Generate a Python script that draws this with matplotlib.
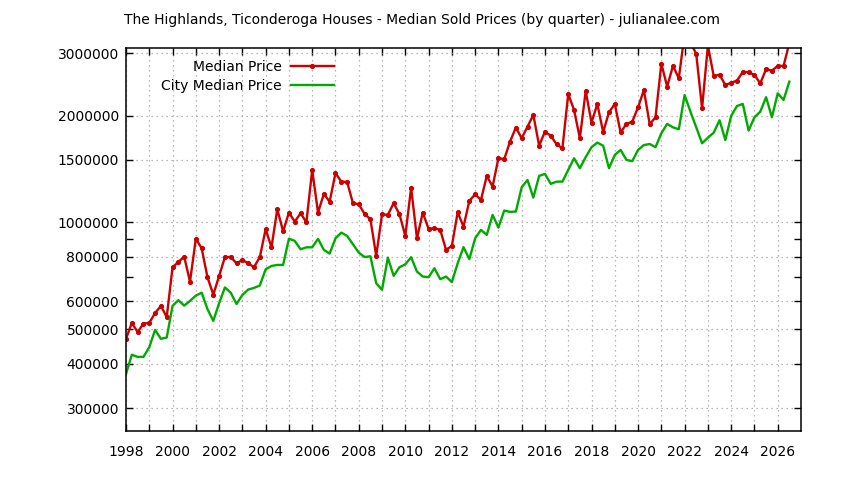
import numpy as np
import matplotlib
matplotlib.use("Agg")
import matplotlib.pyplot as plt
from matplotlib.ticker import FixedLocator, FuncFormatter

# quarterly medians, 1998 Q1 .. 2026 Q3 (thousands of $)
median_price = [
    470, 521, 491, 519,  521, 556, 582, 541,  748, 774, 801, 681,
    899, 846, 701, 626,  706, 799, 799, 767,  784, 767, 748, 799,
    957, 851, 1089, 944,  1066, 1005, 1061, 1001,  1406, 1066, 1203, 1144,
    1377, 1303, 1300, 1133,  1125, 1057, 1021, 805,  1054, 1050, 1133, 1054,
    916, 1253, 902, 1066,  959, 963, 953, 837,  859, 1068, 973, 1150,
    1200, 1157, 1352, 1262,  1517, 1507, 1690, 1850,  1727, 1862, 2008, 1645,
    1803, 1753, 1660, 1617,  2300, 2074, 1727, 2346,  1910, 2157, 1795, 2042,
    2157, 1792, 1895, 1922,  2110, 2360, 1891, 1978,  2800, 2413, 2763, 2546,
    3400, 3220, 2980, 2097,  3150, 2586, 2607, 2438,  2475, 2509, 2655, 2650,
    2603, 2465, 2702, 2677,  2760, 2760, 3200,
]
city_median = [
    374, 424, 418, 418,  445, 498, 470, 474,  582, 604, 583, 601,
    622, 634, 570, 528,  592, 656, 634, 589,  625, 647, 654, 664,
    738, 754, 759, 759,  900, 887, 840, 851,  851, 899, 837, 817,
    902, 936, 916, 868,  822, 799, 803, 674,  646, 796, 707, 748,
    762, 798, 727, 704,  701, 743, 692, 704,  679, 767, 852, 788,
    902, 953, 922, 1050,  967, 1080, 1071, 1073,  1256, 1317, 1175, 1352,
    1370, 1284, 1303, 1303,  1406, 1516, 1421, 1527,  1629, 1678, 1645, 1421,
    1549, 1600, 1500, 1488,  1600, 1652, 1663, 1629,  1783, 1895, 1853, 1830,
    2285, 2051, 1853, 1671,  1733, 1790, 1940, 1707,  1996, 2128, 2157, 1814,
    1978, 2051, 2253, 1978,  2311, 2213, 2493,
]
start_year = 1998
ytick_vals = [300000, 400000, 500000, 600000, 800000, 1000000, 1500000, 2000000, 3000000]
yminor_vals = [700000, 900000]

n = len(median_price)
t = start_year + np.arange(n) / 4.0
red = np.array(median_price) * 1000
green = np.array(city_median) * 1000

plt.rcParams['font.family'] = ['DejaVu Sans']
fig = plt.figure(figsize=(8.44, 4.80), dpi=100)
ax = fig.add_axes([126 / 844, 49.3 / 480, 675 / 844, 382.7 / 480])

ax.plot(t, red, color="#cc0000", lw=1.7, marker="o", ms=2.7, label="Median Price")
ax.plot(t, green, color="#00aa00", lw=1.7, label="City Median Price")

ax.set_yscale("log")
ax.set_xlim(1998, 2027)
ax.set_ylim(259000, 3100000)

ax.yaxis.set_major_locator(FixedLocator(ytick_vals))
ax.yaxis.set_major_formatter(FuncFormatter(lambda v, p: "%d" % round(v)))
ax.yaxis.set_minor_locator(FixedLocator(yminor_vals))
ax.yaxis.set_minor_formatter(FuncFormatter(lambda v, p: ""))

years = np.arange(1998, 2027)
ax.xaxis.set_major_locator(FixedLocator(years))
ax.xaxis.set_major_formatter(FuncFormatter(lambda v, p: "%d" % v if int(v) % 2 == 0 else ""))
ax.xaxis.set_minor_locator(FixedLocator([]))

ax.tick_params(which="both", direction="in", top=True, right=True, length=5,
               width=1, labelsize=10, colors="black")
ax.tick_params(axis="x", pad=10.5)
ax.tick_params(axis="y", pad=5)
ax.grid(True, which="major", color="#a0a0a0", lw=0.9, linestyle=(0, (1, 3)))
for s in ax.spines.values():
    s.set_linewidth(1.1)

ax.legend(loc="upper right", bbox_to_anchor=(0.318, 0.987), frameon=False,
          markerfirst=False, handlelength=3.1, handletextpad=0.65,
          labelspacing=0.35, borderpad=0, fontsize=10)

fig.text(0.5, 1 - 20 / 480, "The Highlands, Ticonderoga Houses - Median Sold Prices (by quarter) - julianalee.com",
         ha="center", va="center", fontsize=10)

fig.savefig("out.png", dpi=100)
